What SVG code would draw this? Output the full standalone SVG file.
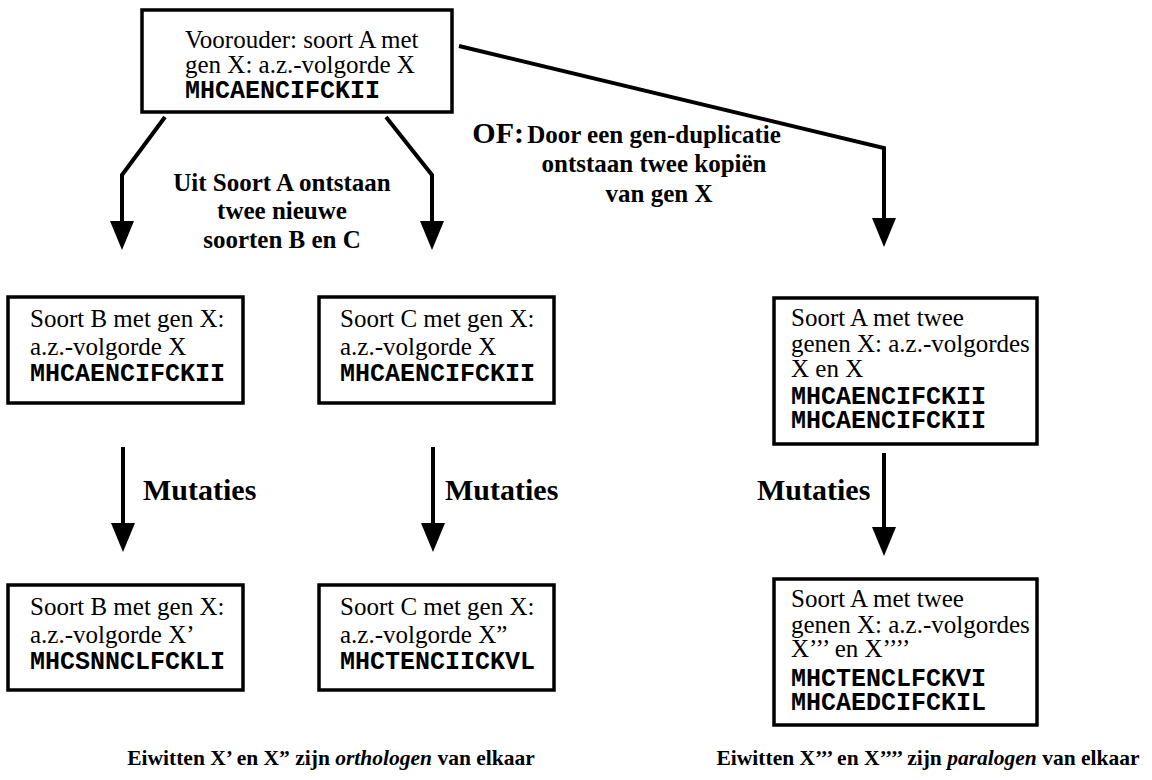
<svg xmlns="http://www.w3.org/2000/svg" width="1152" height="780" viewBox="0 0 1152 780">
<defs>
<marker id="ah" markerUnits="userSpaceOnUse" markerWidth="30" markerHeight="26" viewBox="0 -13 30 26" refX="4" refY="0" orient="auto">
<path d="M0,-12 L29,0 L0,12 z" fill="#000"/>
</marker>
<style>
.box{fill:#fff;stroke:#000;stroke-width:3.5}
.t{font-family:"Liberation Serif","Times New Roman",serif;font-size:25px;fill:#000}
.m{font-family:"Liberation Mono","Courier New",monospace;font-size:25px;font-weight:bold;fill:#000}
.lb{font-family:"Liberation Serif","Times New Roman",serif;font-size:25px;font-weight:bold;fill:#000}
.mu{font-family:"Liberation Serif","Times New Roman",serif;font-size:30px;font-weight:bold;fill:#000}
.cap{font-family:"Liberation Serif","Times New Roman",serif;font-size:21.5px;font-weight:bold;fill:#000}
.c{fill:none;stroke:#000;stroke-width:4;marker-end:url(#ah)}
</style>
</defs>
<rect width="1152" height="780" fill="#fff"/>
<g id="connectors">
<polyline class="c" points="165,117 122,175 122,225"/>
<polyline class="c" points="386,117 432,175 432,225"/>
<polyline class="c" points="459,46 884,148 884,222"/>
<line class="c" x1="123" y1="447" x2="123" y2="527"/>
<line class="c" x1="433" y1="447" x2="433" y2="527"/>
<line class="c" x1="884" y1="453" x2="884" y2="531"/>
</g>
<g id="labels">
<text class="lb" x="282" y="191" text-anchor="middle">Uit Soort A ontstaan</text>
<text class="lb" x="282" y="219" text-anchor="middle">twee nieuwe</text>
<text class="lb" x="282" y="248" text-anchor="middle">soorten B en C</text>
<text class="mu" x="524" y="143" text-anchor="end">OF:</text>
<text class="lb" x="654" y="143" text-anchor="middle">Door een gen-duplicatie</text>
<text class="lb" x="654" y="172" text-anchor="middle">ontstaan twee kopiën</text>
<text class="lb" x="659" y="202" text-anchor="middle">van gen X</text>
<text class="mu" x="143" y="500">Mutaties</text>
<text class="mu" x="445" y="500">Mutaties</text>
<text class="mu" x="757" y="500">Mutaties</text>
<text class="cap" x="331" y="765" text-anchor="middle">Eiwitten X’ en X” zijn <tspan font-style="italic">orthologen</tspan> van elkaar</text>
<text class="cap" x="928" y="765" text-anchor="middle" font-size="22.6">Eiwitten X’’’ en X’’’’ zijn <tspan font-style="italic">paralogen</tspan> van elkaar</text>
</g>
<g id="ancestor">
<rect class="box" x="142" y="10" width="310" height="102"/>
<text class="t" x="185" y="48" font-size="24.3">Voorouder: soort A met</text>
<text class="t" x="185" y="73" font-size="24.3">gen X: a.z.-volgorde X</text>
<text class="m" x="185" y="98">MHCAENCIFCKII</text>
</g>
<g id="speciesB">
<rect class="box" x="8" y="297" width="235" height="106"/>
<text class="t" x="30" y="327">Soort B met gen X:</text>
<text class="t" x="30" y="355">a.z.-volgorde X</text>
<text class="m" x="30" y="381">MHCAENCIFCKII</text>
</g>
<g id="speciesC">
<rect class="box" x="319" y="297" width="235" height="106"/>
<text class="t" x="340" y="327">Soort C met gen X:</text>
<text class="t" x="340" y="355">a.z.-volgorde X</text>
<text class="m" x="340" y="381">MHCAENCIFCKII</text>
</g>
<g id="speciesA-dup">
<rect class="box" x="774" y="298" width="263" height="146"/>
<text class="t" x="791" y="326">Soort A met twee</text>
<text class="t" x="791" y="352">genen X: a.z.-volgordes</text>
<text class="t" x="791" y="377">X en X</text>
<text class="m" x="791" y="404">MHCAENCIFCKII</text>
<text class="m" x="791" y="428">MHCAENCIFCKII</text>
</g>
<g id="speciesB-mut">
<rect class="box" x="8" y="585" width="235" height="105"/>
<text class="t" x="30" y="615">Soort B met gen X:</text>
<text class="t" x="30" y="643">a.z.-volgorde X’</text>
<text class="m" x="30" y="669">MHCSNNCLFCKLI</text>
</g>
<g id="speciesC-mut">
<rect class="box" x="319" y="585" width="235" height="105"/>
<text class="t" x="340" y="615">Soort C met gen X:</text>
<text class="t" x="340" y="643">a.z.-volgorde X”</text>
<text class="m" x="340" y="669">MHCTENCIICKVL</text>
</g>
<g id="speciesA-mut">
<rect class="box" x="774" y="579" width="263" height="146"/>
<text class="t" x="791" y="607">Soort A met twee</text>
<text class="t" x="791" y="633">genen X: a.z.-volgordes</text>
<text class="t" x="791" y="657">X’’’ en X’’’’</text>
<text class="m" x="791" y="686">MHCTENCLFCKVI</text>
<text class="m" x="791" y="710">MHCAEDCIFCKIL</text>
</g>
</svg>
